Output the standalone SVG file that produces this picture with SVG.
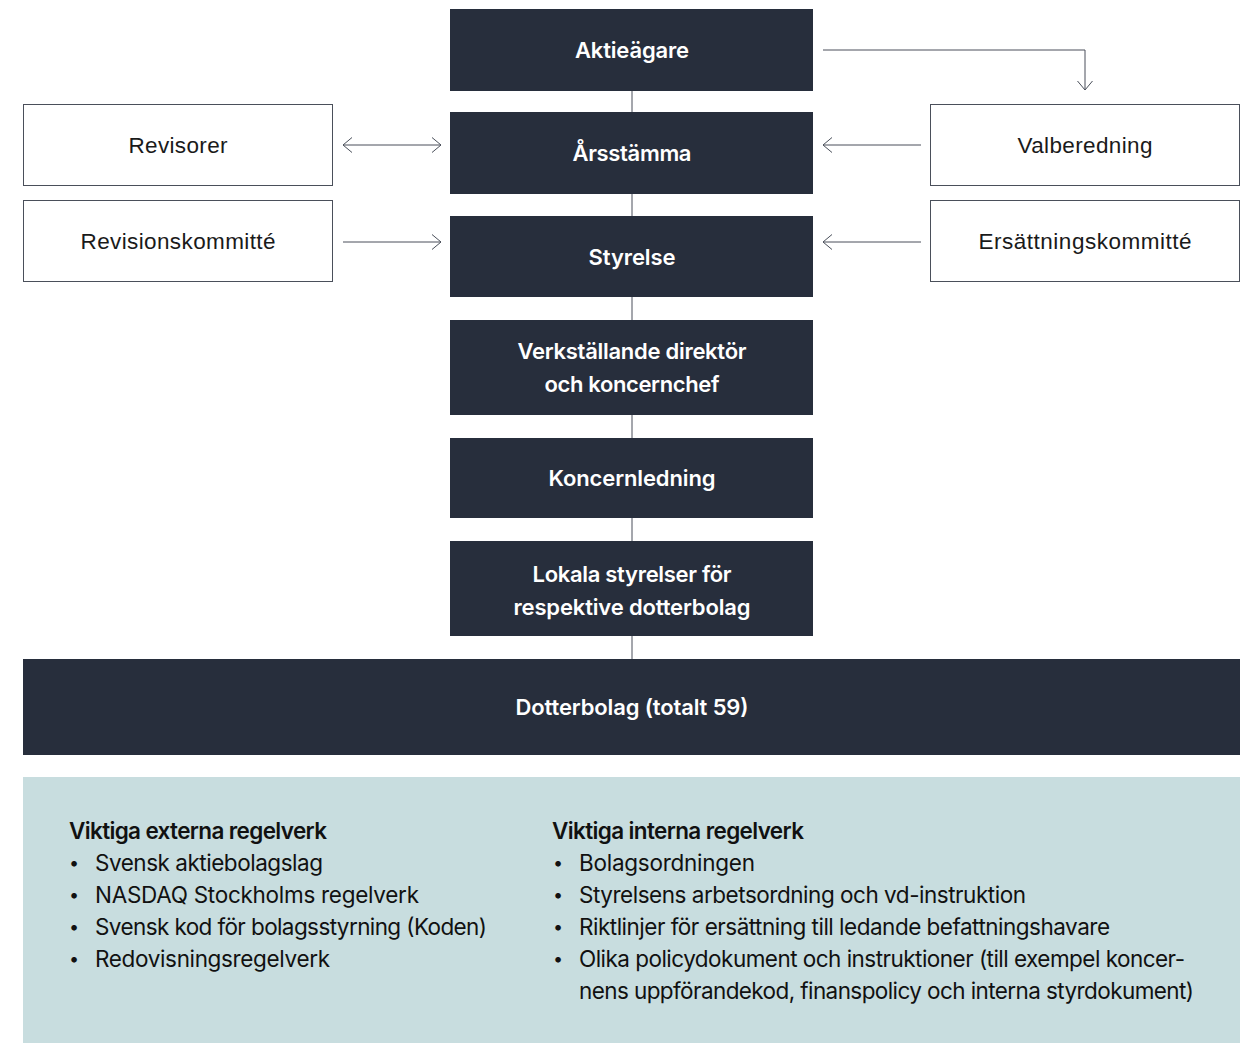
<svg xmlns="http://www.w3.org/2000/svg" width="1245" height="1043" viewBox="0 0 1245 1043">
<style>
.dark{fill:#272e3c}
.white{fill:#ffffff;stroke:#4a4f5a;stroke-width:1}
.dt{font-family:Inter,"Liberation Sans",sans-serif;font-weight:600;font-size:22px;fill:#ffffff;text-anchor:middle}
.wt{font-family:"Liberation Sans",Arial,sans-serif;font-size:22.5px;fill:#1a1a1a;text-anchor:middle}
.hd{font-family:Inter,"Liberation Sans",sans-serif;font-weight:600;font-size:22.5px;fill:#111111}
.bt{font-family:Inter,"Liberation Sans",sans-serif;font-size:22.5px;fill:#111111}
.bl{font-family:Inter,"Liberation Sans",sans-serif;font-size:18px;fill:#111111}
.con{fill:none;stroke:#4a4f5a;stroke-width:1}
</style>
<defs>
<marker id="arr" viewBox="0 -8 11 16" refX="10" refY="0" markerWidth="11" markerHeight="16" markerUnits="userSpaceOnUse" orient="auto-start-reverse">
<path d="M1,-7.5 L10,0 L1,7.5" fill="none" stroke="#4a4f5a" stroke-width="1"/>
</marker>
</defs>
<rect id="background" x="0" y="0" width="1245" height="1043" fill="#ffffff"/>
<g id="connectors">
<line class="con" x1="632" y1="91" x2="632" y2="659"/>
<path class="con" d="M823,50 H1085 V90" marker-end="url(#arr)"/>
<path class="con" d="M343,145 H441" marker-start="url(#arr)" marker-end="url(#arr)"/>
<path class="con" d="M343,242 H441" marker-end="url(#arr)"/>
<path class="con" d="M921,145 H823" marker-end="url(#arr)"/>
<path class="con" d="M921,242 H823" marker-end="url(#arr)"/>
</g>
<g id="aktieagare"><rect class="dark" x="450" y="9" width="363" height="82"/><text class="dt" x="632" y="58" textLength="114">Aktieägare</text></g>
<g id="arsstamma"><rect class="dark" x="450" y="112" width="363" height="82"/><text class="dt" x="632" y="161" textLength="119">Årsstämma</text></g>
<g id="styrelse"><rect class="dark" x="450" y="216" width="363" height="81"/><text class="dt" x="632" y="265" textLength="87">Styrelse</text></g>
<g id="vd"><rect class="dark" x="450" y="320" width="363" height="95"/><text class="dt" x="632" y="359" textLength="229">Verkställande direktör</text><text class="dt" x="632" y="392" textLength="175">och koncernchef</text></g>
<g id="koncernledning"><rect class="dark" x="450" y="438" width="363" height="80"/><text class="dt" x="632" y="486" textLength="167">Koncernledning</text></g>
<g id="lokala"><rect class="dark" x="450" y="541" width="363" height="95"/><text class="dt" x="632" y="582" textLength="199">Lokala styrelser för</text><text class="dt" x="632" y="615" textLength="237">respektive dotterbolag</text></g>
<g id="dotterbolag"><rect class="dark" x="23" y="659" width="1217" height="96"/><text class="dt" x="632" y="715" textLength="233">Dotterbolag (totalt 59)</text></g>
<g id="revisorer"><rect class="white" x="23.5" y="104.5" width="309" height="81"/><text class="wt" x="178" y="153" textLength="99">Revisorer</text></g>
<g id="revisionskommitte"><rect class="white" x="23.5" y="200.5" width="309" height="81"/><text class="wt" x="178" y="249" textLength="195">Revisionskommitté</text></g>
<g id="valberedning"><rect class="white" x="930.5" y="104.5" width="309" height="81"/><text class="wt" x="1085" y="153" textLength="135">Valberedning</text></g>
<g id="ersattningskommitte"><rect class="white" x="930.5" y="200.5" width="309" height="81"/><text class="wt" x="1085" y="249" textLength="213">Ersättningskommitté</text></g>
<g id="regelverk">
<rect x="23" y="777" width="1217" height="266" fill="#c8dddf"/>
<text class="hd" x="69" y="839" textLength="258">Viktiga externa regelverk</text>
<text class="bl" x="69" y="869">•</text><text class="bt" x="95" y="871" textLength="228">Svensk aktiebolagslag</text>
<text class="bl" x="69" y="901">•</text><text class="bt" x="95" y="903" textLength="324">NASDAQ Stockholms regelverk</text>
<text class="bl" x="69" y="933">•</text><text class="bt" x="95" y="935" textLength="392">Svensk kod för bolagsstyrning (Koden)</text>
<text class="bl" x="69" y="965">•</text><text class="bt" x="95" y="967" textLength="235">Redovisningsregelverk</text>
<text class="hd" x="552" y="839" textLength="252">Viktiga interna regelverk</text>
<text class="bl" x="553" y="869">•</text><text class="bt" x="579" y="871" textLength="176">Bolagsordningen</text>
<text class="bl" x="553" y="901">•</text><text class="bt" x="579" y="903" textLength="447">Styrelsens arbetsordning och vd-instruktion</text>
<text class="bl" x="553" y="933">•</text><text class="bt" x="579" y="935" textLength="531">Riktlinjer för ersättning till ledande befattningshavare</text>
<text class="bl" x="553" y="965">•</text><text class="bt" x="579" y="967" textLength="606">Olika policydokument och instruktioner (till exempel koncer-</text>
<text class="bt" x="579" y="999" textLength="615">nens uppförandekod, finanspolicy och interna styrdokument)</text>
</g>
</svg>
